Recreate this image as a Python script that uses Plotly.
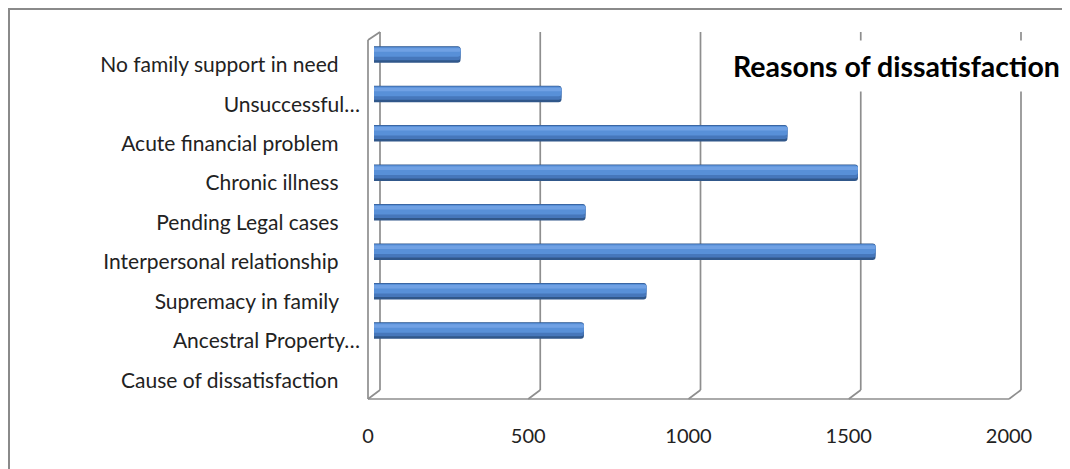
import plotly.graph_objects as go

# ---------------- data ----------------
categories = [
    "No family support in need",
    "Unsuccessful…",
    "Acute financial problem",
    "Chronic illness",
    "Pending Legal cases",
    "Interpersonal relationship",
    "Supremacy in family",
    "Ancestral Property…",
    "Cause of dissatisfaction",
]
values = [270, 585, 1290, 1510, 660, 1565, 850, 655, None]
x_ticks = [0, 500, 1000, 1500, 2000]
x_tick_labels = ["0", "500", "1000", "1500", "2000"]
title_text = "Reasons of dissatisfaction"

# ---------------- geometry (screen pixels) ----------------
OFF = 8                    # page body margin
SW, SH = 1070, 469         # screen size
W, H = SW - OFF, SH - OFF  # figure size
L, R = 374, 1015           # plot area x (bar plane), screen
T, B = 35, 390             # plot area y, screen
XMAX = 2000
PXU = (R - L) / XMAX
CAT = (B - T) / len(categories)
FONT = "Lato"
GRID = "#8e8e8e"


def xp_val(v, dpx=0.0):
    return (v * PXU + dpx) / (R - L)


def xp_px(px):
    return (px - L) / (R - L)


def yp(py):
    return (B - py) / (B - T)


order = list(reversed(categories))

fig = go.Figure()

# cylinder-like bars: dark base, body, upper body, highlight (offsets in px)
layers = [
    (-8.0, 16.5, "#30578a"),
    (-5.5, 13.5, "#4677bb"),
    (-2.0, 9.5, "#5890d8"),
    (3.0, 3.5, "#70a1e4"),
]
for off, wid, col in layers:
    fig.add_trace(go.Bar(
        y=categories, x=values, orientation="h",
        offset=off / CAT, width=wid / CAT,
        marker=dict(color=col, line=dict(width=0), cornerradius=3),
        hoverinfo="skip", showlegend=False,
    ))

shapes = []
line = dict(color=GRID, width=1.7)
for v in x_ticks:
    shapes.append(dict(type="line", xref="paper", yref="paper", layer="below",
                       x0=xp_val(v, 6), x1=xp_val(v, 6), y0=yp(390), y1=yp(32), line=line))
    shapes.append(dict(type="line", xref="paper", yref="paper", layer="below",
                       x0=xp_val(v, 6), x1=xp_val(v, -6), y0=yp(390), y1=yp(399), line=line))
shapes.append(dict(type="line", xref="paper", yref="paper", layer="below",
                   x0=xp_val(0, -6), x1=xp_val(XMAX, -6), y0=yp(399), y1=yp(399), line=line))
shapes.append(dict(type="line", xref="paper", yref="paper", layer="below",
                   x0=xp_val(0, -6), x1=xp_val(0, -6), y0=yp(399), y1=yp(40), line=line))
shapes.append(dict(type="line", xref="paper", yref="paper", layer="below",
                   x0=xp_val(0, -6), x1=xp_val(0, 6), y0=yp(40), y1=yp(32), line=line))
# outer chart border (extends past the picture)
shapes.append(dict(type="rect", xref="paper", yref="paper", layer="below",
                   x0=xp_px(9), x1=xp_px(1300), y0=yp(9), y1=yp(700),
                   line=dict(color="#8a8a8a", width=2), fillcolor="rgba(0,0,0,0)"))

ticktext = [c if c.endswith("…") else c + "\u00a0" * 4 for c in order]

fig.update_layout(
    width=W, height=H,
    margin=dict(l=L - OFF, r=SW - R, t=T - OFF, b=SH - B, pad=0),
    paper_bgcolor="white", plot_bgcolor="rgba(0,0,0,0)",
    barmode="overlay",
    showlegend=False,
    shapes=shapes,
    font=dict(family=FONT, color="#222222"),
    xaxis=dict(range=[0, XMAX], tickvals=x_ticks, ticktext=x_tick_labels,
               showgrid=False, zeroline=False, showline=False, ticks="",
               tickfont=dict(size=20, color="#222222", family=FONT),
               ticklabelshift=-6, ticklabelstandoff=32, fixedrange=True),
    yaxis=dict(type="category", categoryorder="array", categoryarray=order,
               tickvals=order, ticktext=ticktext,
               showgrid=False, zeroline=False, showline=False, ticks="",
               tickfont=dict(size=21, color="#222222", family=FONT),
               ticklabelshift=10, ticklabelstandoff=13, fixedrange=True),
    annotations=[dict(
        text="<b>" + title_text + "</b>", xref="paper", yref="paper",
        x=xp_px(724), y=yp(66), xanchor="left", yanchor="middle",
        showarrow=False, font=dict(size=28.5, color="black", family=FONT),
        bgcolor="white", borderpad=8,
    )],
)

fig.write_html("out.html")
